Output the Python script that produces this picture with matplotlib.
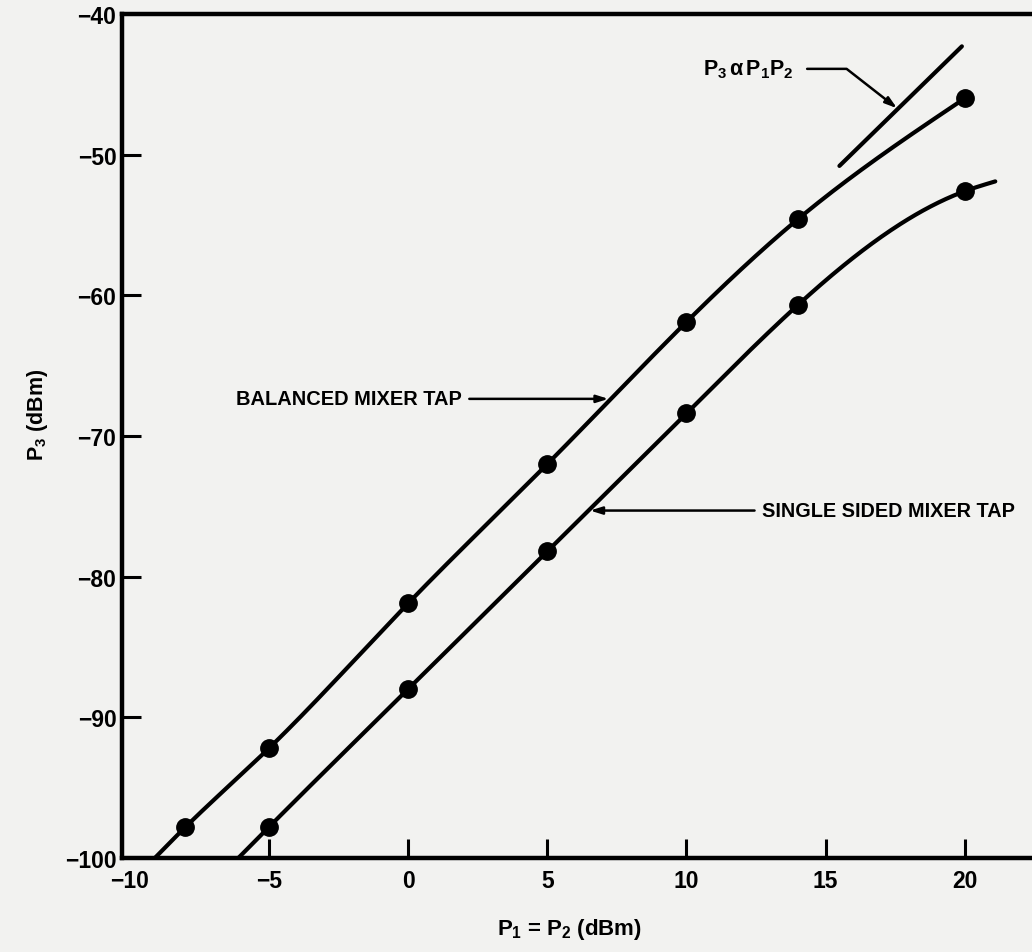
import numpy as np
import matplotlib
matplotlib.use("Agg")
import matplotlib.pyplot as plt

# ---- data ----
bal_x = [-8, -5, 0, 5, 10, 14, 20]
bal_y = [-97.8, -92.2, -81.9, -72.0, -61.9, -54.6, -46.0]
ss_x = [-5, 0, 5, 10, 14, 20]
ss_y = [-97.8, -88.0, -78.2, -68.4, -60.7, -52.6]
# visible extents of the hand-drawn curves
bal_curve_x = [-9.1] + bal_x
bal_curve_y = [-100.0] + bal_y
ss_curve_x = [-6.1] + ss_x + [21.1]
ss_curve_y = [-100.0] + ss_y + [-51.9]
# reference slope line "P3 a P1P2"
ref_x = [15.5, 19.9]
ref_y = [-50.8, -42.3]

x_ticks = [-10, -5, 0, 5, 10, 15, 20]
y_ticks = [-100, -90, -80, -70, -60, -50, -40]

plt.rcParams['font.family'] = ['Liberation Sans', 'DejaVu Sans']
plt.rcParams['font.weight'] = 'bold'
plt.rcParams['mathtext.fontset'] = 'custom'
plt.rcParams['mathtext.rm'] = 'Liberation Sans:bold'
plt.rcParams['mathtext.it'] = 'Liberation Sans:bold'
plt.rcParams['mathtext.bf'] = 'Liberation Sans:bold'
plt.rcParams['mathtext.sf'] = 'Liberation Sans:bold'


def natural_spline(x, y, n=400):
    x = np.asarray(x, float)
    y = np.asarray(y, float)
    k = len(x)
    h = np.diff(x)
    A = np.zeros((k, k))
    b = np.zeros(k)
    A[0, 0] = 1
    A[-1, -1] = 1
    for i in range(1, k - 1):
        A[i, i - 1] = h[i - 1]
        A[i, i] = 2 * (h[i - 1] + h[i])
        A[i, i + 1] = h[i]
        b[i] = 6 * ((y[i + 1] - y[i]) / h[i] - (y[i] - y[i - 1]) / h[i - 1])
    M = np.linalg.solve(A, b)
    xs = np.linspace(x[0], x[-1], n)
    idx = np.clip(np.searchsorted(x, xs) - 1, 0, k - 2)
    x0, x1 = x[idx], x[idx + 1]
    y0, y1 = y[idx], y[idx + 1]
    m0, m1 = M[idx], M[idx + 1]
    hh = x1 - x0
    t0 = x1 - xs
    t1 = xs - x0
    ys = (m0 * t0 ** 3 + m1 * t1 ** 3) / (6 * hh) + (y0 / hh - m0 * hh / 6) * t0 + (y1 / hh - m1 * hh / 6) * t1
    return xs, ys


bg = '#f2f2f0'
fig = plt.figure(figsize=(10.32, 9.53), dpi=100, facecolor=bg)
ax = fig.add_axes([122 / 1032, 1 - 859 / 953, 1 - 122 / 1032, (859 - 15) / 953])
ax.set_facecolor(bg)

lw = 3.0
for cx, cy, px, py in [(bal_curve_x, bal_curve_y, bal_x, bal_y),
                       (ss_curve_x, ss_curve_y, ss_x, ss_y)]:
    xs, ys = natural_spline(cx, cy)
    ax.plot(xs, ys, color='black', lw=lw, solid_capstyle='round', zorder=3)
    ax.plot(px, py, 'o', color='black', ms=12.5, zorder=4)

ax.plot(ref_x, ref_y, color='black', lw=lw, solid_capstyle='round', zorder=3)

ax.set_xlim(-10.28, 22.42)
ax.set_ylim(-100, -40)
ax.set_xticks(x_ticks)
ax.set_yticks(y_ticks)
ax.set_xticklabels([str(v).replace('-', '\u2212') for v in x_ticks])
ax.set_yticklabels([str(v).replace('-', '\u2212') for v in y_ticks])

for s in ['top', 'left', 'bottom']:
    ax.spines[s].set_linewidth(3.2)
ax.spines['right'].set_visible(False)
ax.tick_params(axis='both', direction='in', length=14, width=2.2, labelsize=16.5)
ax.tick_params(axis='x', pad=8)
ax.tick_params(axis='y', pad=4)
# hide tick mark at the axis corner
ax.xaxis.get_major_ticks()[0].tick1line.set_visible(False)
ax.yaxis.get_major_ticks()[0].tick1line.set_visible(False)
ax.yaxis.get_major_ticks()[-1].tick1line.set_visible(False)
for lab in ax.get_xticklabels() + ax.get_yticklabels():
    lab.set_fontweight('bold')

ax.set_xlabel(r'$P_1$ = $P_2$ (dBm)', fontsize=16, fontweight='bold')
ax.xaxis.set_label_coords(0.492, -0.083)
ax.xaxis.label.set_va('center')
ax.set_ylabel(r'$P_3$ (dBm)', fontsize=15.5, fontweight='bold')
ax.yaxis.set_label_coords(-0.093, 0.526)
ax.yaxis.label.set_va('center')

arrow = dict(arrowstyle='-|>,head_length=0.7,head_width=0.22', color='black',
             lw=1.8, shrinkA=0, shrinkB=0)

# Balanced mixer tap label
ax.text(1.94, -67.36, 'BALANCED MIXER TAP', fontsize=14.4, fontweight='bold',
        ha='right', va='center')
ax.annotate('', xy=(7.2, -67.36), xytext=(2.2, -67.36), arrowprops=arrow)

# Single sided mixer tap label
ax.text(12.72, -75.3, 'SINGLE SIDED MIXER TAP', fontsize=14.3, fontweight='bold',
        ha='left', va='center')
ax.annotate('', xy=(6.54, -75.3), xytext=(12.45, -75.3), arrowprops=arrow)

# P3 a P1P2 label
ax.text(10.6, -43.9, r'$P_3\,\alpha\,P_1P_2$', fontsize=15.5, fontweight='bold',
        ha='left', va='center')
ax.annotate('', xy=(17.57, -46.7), xytext=(14.34, -43.9),
            arrowprops=dict(arrow, connectionstyle='angle,angleA=0,angleB=-38,rad=0'))

fig.savefig('out.png', dpi=100, facecolor=bg)
